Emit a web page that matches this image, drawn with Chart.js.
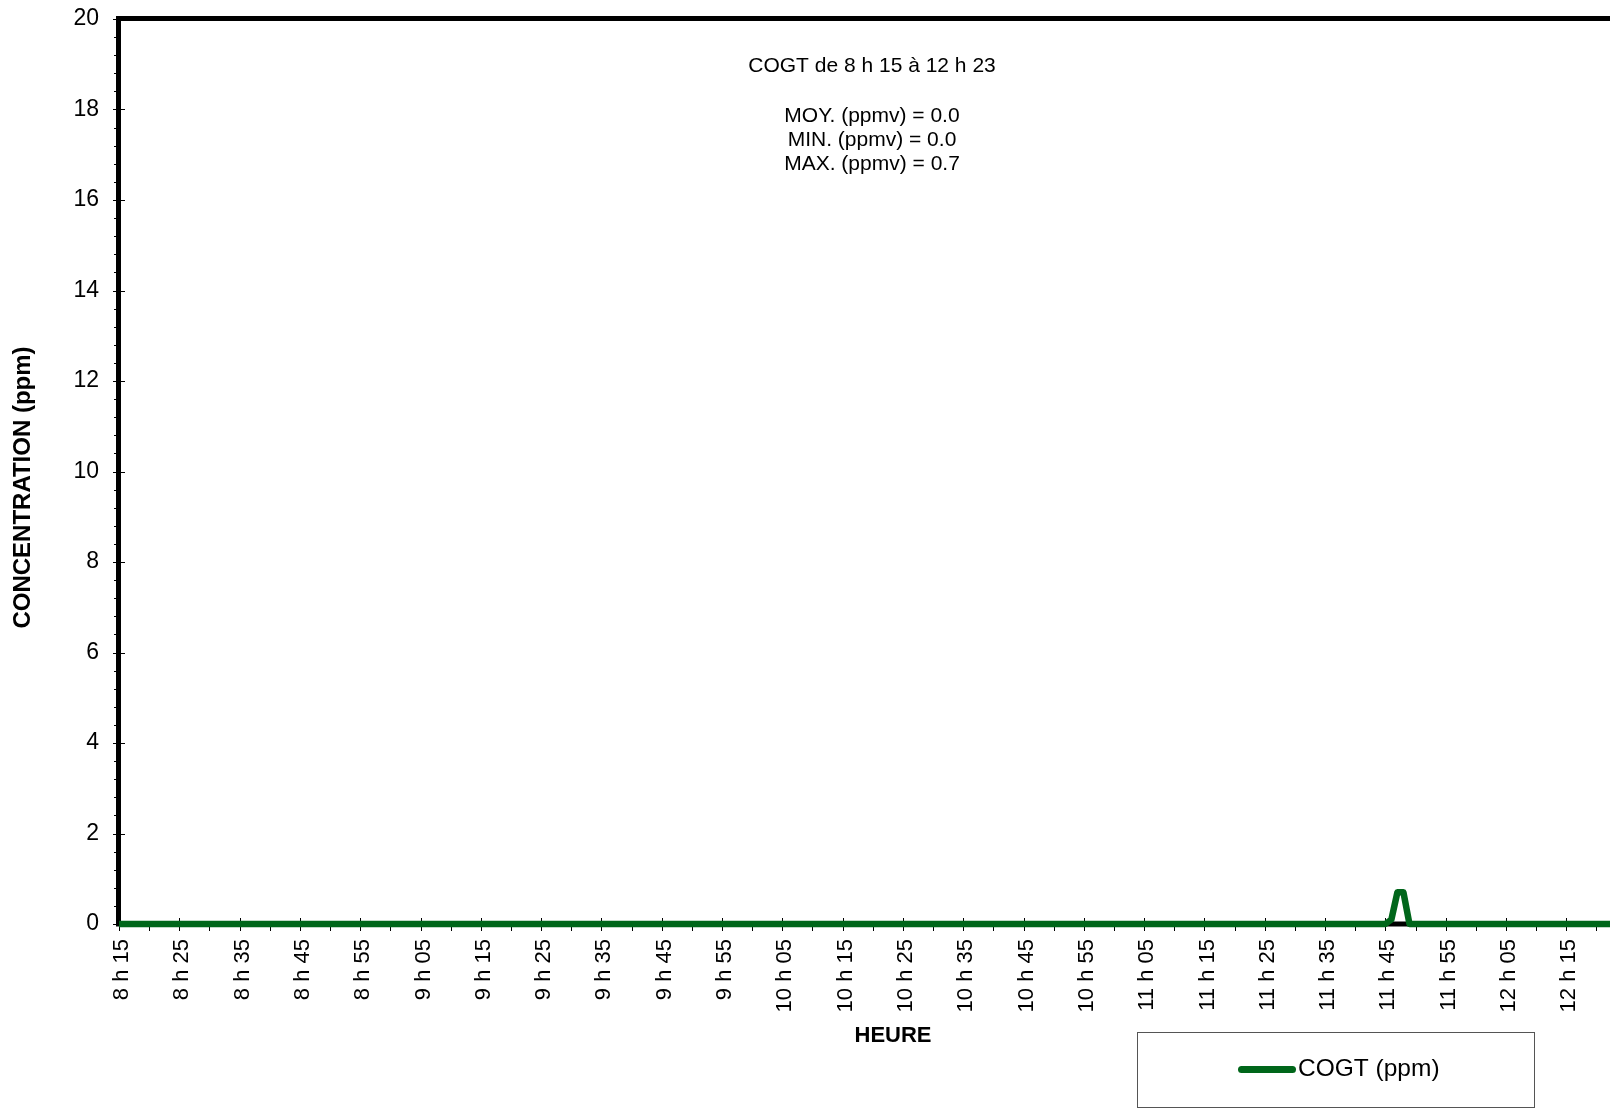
<!DOCTYPE html>
<html>
<head>
<meta charset="utf-8">
<title>COGT</title>
<script src="https://cdn.jsdelivr.net/npm/chart.js@4.4.0/dist/chart.umd.min.js"></script>
<style>
  html, body { margin: 0; padding: 0; background: #fff; overflow: hidden; }
  #wrap { width: 1640px; height: 1108px; }
</style>
</head>
<body>
<div id="wrap"><canvas id="myChart" width="1640" height="1108"></canvas></div>
<script>
"use strict";

const FONT = "'Liberation Sans', Arial, sans-serif";
const GREEN = '#00661a';

const seriesName = 'COGT (ppm)';
const startMinute = 8 * 60 + 15;  // 8 h 15
const endMinute = 12 * 60 + 23;   // 12 h 23

const tickLabels = [
  '8 h 15', '8 h 25', '8 h 35', '8 h 45', '8 h 55',
  '9 h 05', '9 h 15', '9 h 25', '9 h 35', '9 h 45', '9 h 55',
  '10 h 05', '10 h 15', '10 h 25', '10 h 35', '10 h 45', '10 h 55',
  '11 h 05', '11 h 15', '11 h 25', '11 h 35', '11 h 45', '11 h 55',
  '12 h 05', '12 h 15'
];

const statLines = [
  'COGT de 8 h 15 à 12 h 23',
  'MOY. (ppmv) = 0.0',
  'MIN. (ppmv) = 0.0',
  'MAX. (ppmv) = 0.7'
];

// one reading per minute, 8 h 15 -> 12 h 23
const values = [
  0, 0, 0, 0, 0, 0, 0, 0, 0, 0,
  0, 0, 0, 0, 0, 0, 0, 0, 0, 0,
  0, 0, 0, 0, 0, 0, 0, 0, 0, 0,
  0, 0, 0, 0, 0, 0, 0, 0, 0, 0,
  0, 0, 0, 0, 0, 0, 0, 0, 0, 0,
  0, 0, 0, 0, 0, 0, 0, 0, 0, 0,
  0, 0, 0, 0, 0, 0, 0, 0, 0, 0,
  0, 0, 0, 0, 0, 0, 0, 0, 0, 0,
  0, 0, 0, 0, 0, 0, 0, 0, 0, 0,
  0, 0, 0, 0, 0, 0, 0, 0, 0, 0,
  0, 0, 0, 0, 0, 0, 0, 0, 0, 0,
  0, 0, 0, 0, 0, 0, 0, 0, 0, 0,
  0, 0, 0, 0, 0, 0, 0, 0, 0, 0,
  0, 0, 0, 0, 0, 0, 0, 0, 0, 0,
  0, 0, 0, 0, 0, 0, 0, 0, 0, 0,
  0, 0, 0, 0, 0, 0, 0, 0, 0, 0,
  0, 0, 0, 0, 0, 0, 0, 0, 0, 0,
  0, 0, 0, 0, 0, 0, 0, 0, 0, 0,
  0, 0, 0, 0, 0, 0, 0, 0, 0, 0,
  0, 0, 0, 0, 0, 0, 0, 0, 0, 0,
  0, 0, 0, 0, 0, 0, 0, 0, 0, 0,
  0, 0.1, 0.7, 0.7, 0, 0, 0, 0, 0, 0,
  0, 0, 0, 0, 0, 0, 0, 0, 0, 0,
  0, 0, 0, 0, 0, 0, 0, 0, 0, 0,
  0, 0, 0, 0, 0, 0, 0, 0, 0
];

const points = values.map((v, i) => ({ x: startMinute + i, y: v }));

// axis lines, tick marks, stats block, axis titles and legend box
const framePlugin = {
  id: 'framePlugin',
  beforeDatasetsDraw(chart) {
    const ctx = chart.ctx;
    const area = chart.chartArea;
    const xs = chart.scales.x;
    const ys = chart.scales.y;
    ctx.save();
    ctx.strokeStyle = '#000';
    ctx.lineWidth = 1;

    for (let i = 0; i <= 50; i++) {
      const py = Math.round(ys.getPixelForValue(i * 0.4)) + 0.5;
      ctx.beginPath();
      if (i % 5 === 0) {
        ctx.moveTo(area.left - 6, py);
        ctx.lineTo(area.left + 6, py);
      } else {
        ctx.moveTo(area.left - 5, py);
        ctx.lineTo(area.left, py);
      }
      ctx.stroke();
    }

    for (let m = startMinute; m <= endMinute; m += 5) {
      const px = Math.round(xs.getPixelForValue(m)) + 0.5;
      ctx.beginPath();
      if ((m - startMinute) % 10 === 0) {
        ctx.moveTo(px, area.bottom - 6);
      } else {
        ctx.moveTo(px, area.bottom);
      }
      ctx.lineTo(px, area.bottom + 7);
      ctx.stroke();
    }

    ctx.lineWidth = 5;
    ctx.beginPath();
    ctx.moveTo(area.left - 3, area.top - 0.5);
    ctx.lineTo(area.right, area.top - 0.5);
    ctx.moveTo(area.left - 0.5, area.top - 3);
    ctx.lineTo(area.left - 0.5, area.bottom);
    ctx.lineTo(area.right, area.bottom);
    ctx.lineTo(area.right, area.top);
    ctx.stroke();
    ctx.restore();
  },
  afterDraw(chart) {
    const ctx = chart.ctx;
    ctx.save();
    ctx.fillStyle = '#000';

    ctx.font = '21px ' + FONT;
    ctx.textAlign = 'center';
    ctx.textBaseline = 'alphabetic';
    const lineY = [71.5, 121.5, 145.8, 170];
    statLines.forEach((t, i) => ctx.fillText(t, 872, lineY[i]));

    ctx.font = 'bold 22px ' + FONT;
    ctx.textBaseline = 'middle';
    ctx.fillText('HEURE', 893, 1036);

    ctx.save();
    ctx.translate(23, 487.5);
    ctx.rotate(-Math.PI / 2);
    ctx.font = 'bold 24px ' + FONT;
    ctx.fillText('CONCENTRATION (ppm)', 0, 0);
    ctx.restore();

    // legend
    ctx.strokeStyle = '#555';
    ctx.lineWidth = 1;
    ctx.strokeRect(1137.5, 1032.5, 397, 75);
    ctx.strokeStyle = GREEN;
    ctx.lineWidth = 7;
    ctx.lineCap = 'round';
    ctx.beginPath();
    ctx.moveTo(1241.5, 1069.5);
    ctx.lineTo(1292.5, 1069.5);
    ctx.stroke();
    ctx.font = '24.5px ' + FONT;
    ctx.textAlign = 'left';
    ctx.textBaseline = 'alphabetic';
    ctx.fillText(seriesName, 1298, 1076);
    ctx.restore();
  }
};

const config = {
  type: 'line',
  data: {
    datasets: [{
      label: seriesName,
      data: points,
      borderColor: GREEN,
      borderWidth: 6.5,
      borderJoinStyle: 'round',
      pointRadius: 0,
      tension: 0,
      fill: false,
      clip: false
    }]
  },
  options: {
    responsive: false,
    animation: false,
    layout: { padding: { top: 19, right: 25.5, left: 0, bottom: 0 } },
    plugins: { legend: { display: false }, tooltip: { enabled: false } },
    scales: {
      x: {
        type: 'linear',
        min: startMinute,
        max: endMinute,
        grid: { display: false, drawTicks: false },
        border: { display: false },
        afterBuildTicks(scale) {
          scale.ticks = tickLabels.map((t, i) => ({ value: startMinute + i * 10 }));
        },
        afterFit(scale) {
          scale.height = 184;
          scale.paddingLeft = 0;
          scale.paddingRight = 0;
        },
        ticks: {
          autoSkip: false,
          minRotation: 90,
          maxRotation: 90,
          padding: 15,
          labelOffset: 3,
          color: '#000',
          font: { family: FONT, size: 22 },
          callback(value) {
            const k = (value - startMinute) / 10;
            return Number.isInteger(k) ? tickLabels[k] : '';
          }
        }
      },
      y: {
        min: 0,
        max: 20,
        grid: { display: false, drawTicks: false },
        border: { display: false },
        afterFit(scale) {
          scale.width = 119;
          scale.paddingTop = 0;
          scale.paddingBottom = 0;
        },
        ticks: {
          stepSize: 2,
          padding: 20,
          color: '#000',
          font: { family: FONT, size: 23 }
        }
      }
    }
  },
  plugins: [framePlugin]
};

const myChart = new Chart(document.getElementById('myChart'), config);
</script>
</body>
</html>
